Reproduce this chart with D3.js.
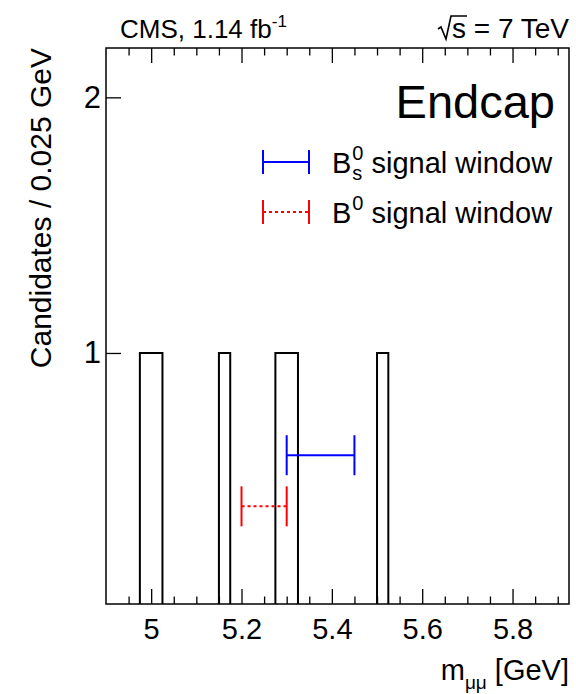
<!DOCTYPE html>
<html>
<head>
<meta charset="utf-8">
<script src="https://cdn.jsdelivr.net/npm/d3@7"></script>
<style>
  body { margin: 0; background: #fff; }
  svg text { font-family: "Liberation Sans", Arial, Helvetica, sans-serif; fill: #000; white-space: pre; }
</style>
</head>
<body>
<svg id="chart" width="576" height="694"></svg>
<script>
// Dimuon candidates in 0.025 GeV bins: lower edge of every filled bin and its content
const binLowEdges = [4.975, 5.000, 5.150, 5.275, 5.300, 5.500];
const binCounts   = [1, 1, 1, 1, 1, 1];
const binWidth    = 0.025;

// Axis ranges and tick labels
const massRange   = [4.9, 5.925];
const countRange  = [0.018, 2.193];
const xTickValues = [5.0, 5.2, 5.4, 5.6, 5.8];
const xTickLabels = ["5", "5.2", "5.4", "5.6", "5.8"];
const yTickValues = [1, 2];
const yTickLabels = ["1", "2"];

// Mass windows drawn as horizontal error bars
const windowLow    = [5.30, 5.20];
const windowHigh   = [5.45, 5.30];
const windowLevel  = [0.6, 0.4];
const windowColors = ["#0000ff", "#ff0000"];
const windowDashes = [null, "3,3"];
const windowSub    = ["s", null];

const svg = d3.select("#chart");
const frame = { left: 106, right: 569, top: 48, bottom: 604 };

const x = d3.scaleLinear().domain(massRange).range([frame.left, frame.right]);
const y = d3.scaleLinear().domain(countRange).range([frame.bottom, frame.top]);

svg.append("defs").append("clipPath").attr("id", "plotClip")
  .append("rect")
  .attr("x", frame.left).attr("y", frame.top)
  .attr("width", frame.right - frame.left).attr("height", frame.bottom - frame.top);

// ---- histogram outline ----
const nBins = Math.round((massRange[1] - massRange[0]) / binWidth);
const contents = new Array(nBins).fill(0);
binLowEdges.forEach((e, i) => {
  contents[Math.round((e - massRange[0]) / binWidth)] = binCounts[i];
});
const steps = [[massRange[0], 0]];
contents.forEach((c, i) => {
  const lo = massRange[0] + i * binWidth;
  steps.push([lo, c], [lo + binWidth, c]);
});
steps.push([massRange[1], 0]);

svg.append("path")
  .attr("clip-path", "url(#plotClip)")
  .attr("d", d3.line().x(d => x(d[0])).y(d => y(d[1]))(steps))
  .attr("fill", "none")
  .attr("stroke", "#000")
  .attr("stroke-width", 2);

// ---- signal windows ----
const capHalf = 20;
windowLow.forEach((lo, i) => {
  const g = svg.append("g")
    .attr("stroke", windowColors[i])
    .attr("stroke-width", 2)
    .attr("fill", "none");
  const yy = y(windowLevel[i]);
  g.append("line")
    .attr("x1", x(lo)).attr("x2", x(windowHigh[i]))
    .attr("y1", yy).attr("y2", yy)
    .attr("stroke-dasharray", windowDashes[i]);
  [lo, windowHigh[i]].forEach(v => {
    g.append("line")
      .attr("x1", x(v)).attr("x2", x(v))
      .attr("y1", yy - capHalf).attr("y2", yy + capHalf);
  });
});

// ---- axes ----
const fontSize = 29;
const xMinor = d3.ticks(massRange[0], massRange[1], 20)
  .filter(v => !xTickValues.some(t => Math.abs(t - v) < 1e-6) && v > massRange[0] + 1e-6 && v < massRange[1] - 1e-6);

function styleAxis(g) {
  g.select(".domain").remove();
  g.selectAll(".tick line").attr("stroke", "#000").attr("stroke-width", 1.3);
}

// bottom: major with labels, minor without
const xAxisMajor = svg.append("g")
  .attr("transform", `translate(0,${frame.bottom})`)
  .call(d3.axisBottom(x).tickValues(xTickValues).tickSize(-15)
    .tickPadding(14).tickFormat((d, i) => xTickLabels[i]));
styleAxis(xAxisMajor);
xAxisMajor.selectAll("text")
  .attr("font-size", fontSize)
  .attr("font-family", null)
  .attr("y", 35).attr("dy", null);

svg.append("g")
  .attr("transform", `translate(0,${frame.bottom})`)
  .call(d3.axisBottom(x).tickValues(xMinor).tickSize(-7.5).tickFormat(""))
  .call(styleAxis);

// top mirror ticks
svg.append("g")
  .attr("transform", `translate(0,${frame.top})`)
  .call(d3.axisTop(x).tickValues(xTickValues).tickSize(-15).tickFormat(""))
  .call(styleAxis);
svg.append("g")
  .attr("transform", `translate(0,${frame.top})`)
  .call(d3.axisTop(x).tickValues(xMinor).tickSize(-7.5).tickFormat(""))
  .call(styleAxis);

// left
const yAxis = svg.append("g")
  .attr("transform", `translate(${frame.left},0)`)
  .call(d3.axisLeft(y).tickValues(yTickValues).tickSize(-15)
    .tickPadding(5).tickFormat((d, i) => yTickLabels[i]));
styleAxis(yAxis);
yAxis.selectAll("text")
  .attr("font-size", 31)
  .attr("font-family", null);

// frame
svg.append("rect")
  .attr("x", frame.left).attr("y", frame.top)
  .attr("width", frame.right - frame.left).attr("height", frame.bottom - frame.top)
  .attr("fill", "none").attr("stroke", "#000").attr("stroke-width", 1.5);

// ---- axis titles ----
svg.append("text")
  .attr("transform", `translate(51,${frame.top}) rotate(-90)`)
  .attr("text-anchor", "end")
  .attr("font-size", 30)
  .text("Candidates / 0.025 GeV");

const xTitle = svg.append("text")
  .attr("x", frame.right).attr("y", 680)
  .attr("text-anchor", "end")
  .attr("font-size", fontSize);
xTitle.append("tspan").text("m");
xTitle.append("tspan").attr("font-size", 19).attr("dy", 9).text("μμ");
xTitle.append("tspan").attr("dy", -9).text(" [GeV]");

// ---- header ----
const head = svg.append("text")
  .attr("x", 120).attr("y", 38)
  .attr("font-size", 26);
head.append("tspan").text("CMS, 1.14 fb");
head.append("tspan").attr("font-size", 17).attr("dy", -11).text("-1");

const energyFont = 28;
const energy = svg.append("text")
  .attr("x", frame.right).attr("y", 38)
  .attr("text-anchor", "end")
  .attr("font-size", energyFont)
  .text("s = 7 TeV");
const eBox = energy.node().getBBox();
const sW = (() => {
  const t = svg.append("text").attr("font-size", energyFont).text("s");
  const w = t.node().getComputedTextLength(); t.remove(); return w;
})();
const sx = eBox.x;
const base = 38;
svg.append("path")
  .attr("d", `M${sx - 14},${base - 9} L${sx - 11},${base - 11} L${sx - 6},${base + 1} L${sx - 1},${base - 22} L${sx + sW + 1},${base - 22}`)
  .attr("fill", "none").attr("stroke", "#000").attr("stroke-width", 1.6);

// ---- pad label ----
svg.append("text")
  .attr("x", 555).attr("y", 118)
  .attr("text-anchor", "end")
  .attr("font-size", 47)
  .text("Endcap");

// ---- legend ----
const legendRows = [162, 212];
const legendTextX = 332;
legendRows.forEach((ly, i) => {
  const g = svg.append("g")
    .attr("stroke", windowColors[i]).attr("stroke-width", 2);
  g.append("line").attr("x1", 263).attr("x2", 309).attr("y1", ly).attr("y2", ly)
    .attr("stroke-dasharray", windowDashes[i]);
  [263, 309].forEach(cx => g.append("line")
    .attr("x1", cx).attr("x2", cx).attr("y1", ly - 12).attr("y2", ly + 12));

  const baseY = ly + 11;
  const b = svg.append("text").attr("x", legendTextX).attr("y", baseY)
    .attr("font-size", fontSize).text("B");
  const bx = legendTextX + b.node().getComputedTextLength();
  const sup = svg.append("text").attr("x", bx + 1).attr("y", baseY - 13)
    .attr("font-size", 20).text("0");
  let scriptW = sup.node().getComputedTextLength();
  if (windowSub[i]) {
    const sub = svg.append("text").attr("x", bx + 1).attr("y", baseY + 7)
      .attr("font-size", 20).text(windowSub[i]);
    scriptW = Math.max(scriptW, sub.node().getComputedTextLength());
  }
  svg.append("text").attr("x", bx + 1 + scriptW).attr("y", baseY)
    .attr("font-size", fontSize).text(" signal window");
});
</script>
</body>
</html>
